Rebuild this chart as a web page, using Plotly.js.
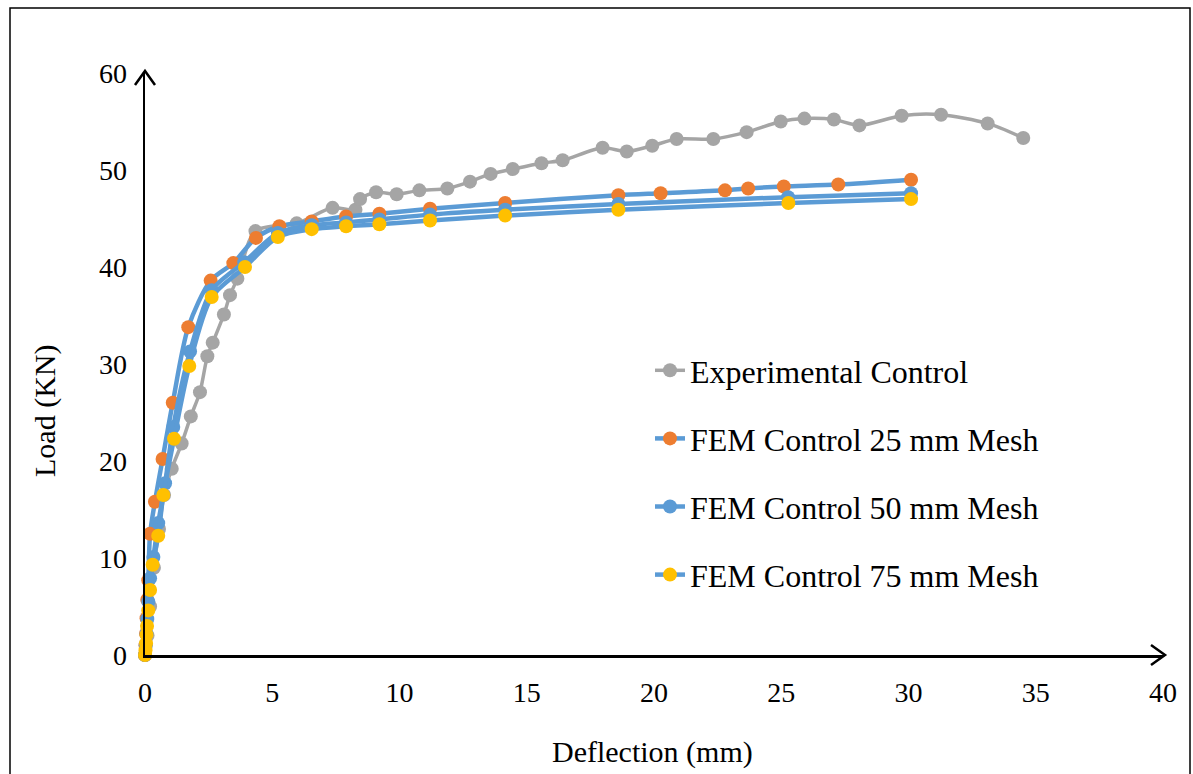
<!DOCTYPE html>
<html>
<head>
<meta charset="utf-8">
<script src="https://cdn.plot.ly/plotly-3.0.1.min.js"></script>
<style>html,body{margin:0;padding:0;background:#fff;}#chart{width:1193px;height:774px;}</style>
</head>
<body>
<div id="chart"></div>
<script>
// Experimental Control
const expX = [0, 0.1, 0.2, 0.35, 0.55, 0.75, 1.05, 1.44, 1.80, 2.16, 2.45, 2.66, 3.10, 3.34, 3.63, 4.34, 5.96, 7.37, 8.27, 8.45, 9.08, 9.89, 10.78, 11.88, 12.77, 13.58, 14.45, 15.58, 16.41, 17.98, 18.93, 19.93, 20.89, 22.33, 23.64, 24.98, 25.91, 27.07, 28.07, 29.73, 31.28, 33.11, 34.51];
const expY = [0, 2, 5, 9, 13, 16.5, 19.2, 21.8, 24.6, 27.1, 30.8, 32.2, 35.1, 37.1, 38.8, 43.7, 44.5, 46.1, 45.9, 47.0, 47.7, 47.5, 47.9, 48.1, 48.8, 49.6, 50.1, 50.7, 51.0, 52.3, 51.9, 52.5, 53.2, 53.2, 53.9, 55.0, 55.3, 55.2, 54.6, 55.6, 55.7, 54.8, 53.3];
// FEM Control 25 mm Mesh
const fem25X = [0, 0.02, 0.04, 0.06, 0.09, 0.13, 0.2, 0.39, 0.69, 1.09, 1.70, 2.58, 3.47, 4.36, 5.28, 6.55, 7.9, 9.21, 11.2, 14.15, 18.6, 20.26, 22.79, 23.7, 25.1, 27.24, 30.1];
const fem25Y = [0, 1.0, 2.2, 3.8, 5.7, 7.7, 12.5, 15.8, 20.2, 26.0, 33.8, 38.6, 40.4, 43.0, 44.2, 44.7, 45.2, 45.5, 46.0, 46.6, 47.4, 47.6, 47.9, 48.1, 48.3, 48.5, 49.0];
// FEM Control 50 mm Mesh
const fem50X = [0, 0.03, 0.06, 0.09, 0.13, 0.2, 0.33, 0.52, 0.79, 1.11, 1.77, 2.62, 3.9, 5.22, 6.55, 7.9, 9.21, 11.2, 14.15, 18.6, 25.27, 30.1];
const fem50Y = [0, 1.0, 2.2, 3.7, 5.5, 7.9, 10.1, 13.6, 17.7, 23.5, 31.3, 37.6, 40.5, 43.5, 44.3, 44.6, 44.9, 45.4, 45.9, 46.5, 47.2, 47.6];
// FEM Control 75 mm Mesh
const fem75X = [0, 0.02, 0.04, 0.06, 0.08, 0.13, 0.2, 0.30, 0.52, 0.72, 1.14, 1.74, 2.62, 3.93, 5.22, 6.55, 7.9, 9.21, 11.2, 14.15, 18.6, 25.28, 30.1];
const fem75Y = [0, 0.5, 1.2, 2.1, 3.0, 4.6, 6.7, 9.3, 12.3, 16.5, 22.3, 29.8, 36.9, 40.0, 43.1, 43.9, 44.2, 44.4, 44.8, 45.3, 45.9, 46.6, 47.0];

const seriesNames = ["Experimental Control", "FEM Control 25 mm Mesh", "FEM Control 50 mm Mesh", "FEM Control 75 mm Mesh"];
const xTicks = [0, 5, 10, 15, 20, 25, 30, 35, 40];
const yTicks = [0, 10, 20, 30, 40, 50, 60];
const xTitle = "Deflection (mm)";
const yTitle = "Load (KN)";

const FONT = "Liberation Serif, Times New Roman, serif";
const lineBlue = "#5B9BD5";

function tr(x, y, name, lineColor, lineWidth, markerColor, idx) {
  return {
    x: x, y: y, name: name, type: "scatter", mode: "lines+markers",
    legendgroup: "g" + idx,
    line: {color: lineColor, width: lineWidth, shape: "spline", smoothing: 0.8},
    marker: {color: markerColor, size: 14},
    cliponaxis: false
  };
}

const data = [
  tr(expX, expY, seriesNames[0], "#A5A5A5", 3.5, "#A5A5A5", 0),
  tr(fem25X, fem25Y, seriesNames[1], lineBlue, 4.5, "#ED7D31", 1),
  tr(fem50X, fem50Y, seriesNames[2], lineBlue, 4.5, "#5B9BD5", 2),
  tr(fem75X, fem75Y, seriesNames[3], lineBlue, 4.5, "#FFC000", 3)
];

const W = 1018, H = 582;
const layout = {
  width: 1193, height: 774,
  margin: {l: 145, r: 30, t: 73, b: 119, pad: 0},
  paper_bgcolor: "#fff", plot_bgcolor: "#fff",
  font: {family: FONT, color: "#000", size: 28},
  showlegend: true,
  legend: {
    x: (650 - 145) / W, y: (655 - 343) / H, xanchor: "left", yanchor: "top",
    font: {family: FONT, size: 32, color: "#000"},
    bgcolor: "rgba(0,0,0,0)", tracegroupgap: 23.5, itemwidth: 30
  },
  xaxis: {
    range: [0, 40], tickvals: xTicks, ticktext: xTicks.map(String),
    showgrid: false, zeroline: false, showline: true, linecolor: "#000", linewidth: 2.5,
    ticks: "", ticklabelstandoff: 11, tickfont: {family: FONT, size: 28, color: "#000"}
  },
  yaxis: {
    range: [0, 60], tickvals: yTicks, ticktext: yTicks.map(String),
    showgrid: false, zeroline: false, showline: true, linecolor: "#000", linewidth: 2.5,
    ticks: "", ticklabelstandoff: 10, tickfont: {family: FONT, size: 28, color: "#000"}
  },
  annotations: [
    {text: xTitle, xref: "paper", yref: "paper", x: (652 - 145) / W, y: (655 - 752) / H,
     showarrow: false, font: {family: FONT, size: 30, color: "#000"}, xanchor: "center", yanchor: "middle"},
    {text: yTitle, xref: "paper", yref: "paper", x: (45 - 145) / W, y: (655 - 411) / H,
     showarrow: false, textangle: -90, font: {family: FONT, size: 30, color: "#000"}, xanchor: "center", yanchor: "middle"}
  ],
  shapes: [
    // outer frame
    {type: "rect", xref: "paper", yref: "paper", x0: (10 - 145) / W, x1: (1190 - 145) / W,
     y0: (655 - 800) / H, y1: (655 - 8) / H, line: {color: "#000", width: 1.5}},
    // x arrow head
    {type: "path", xref: "paper", yref: "paper",
     path: "M " + (1 - 12 / W) + " " + (10 / H) + " L " + (1 + 2 / W) + " 0 L " + (1 - 12 / W) + " " + (-10 / H),
     line: {color: "#000", width: 2.5}},
    // y arrow head
    {type: "path", xref: "paper", yref: "paper",
     path: "M " + (-10 / W) + " " + (1 - 12 / H) + " L 0 " + (1 + 2 / H) + " L " + (10 / W) + " " + (1 - 12 / H),
     line: {color: "#000", width: 2.5}}
  ]
};

Plotly.newPlot("chart", data, layout, {displayModeBar: false, staticPlot: true});
</script>
</body>
</html>
